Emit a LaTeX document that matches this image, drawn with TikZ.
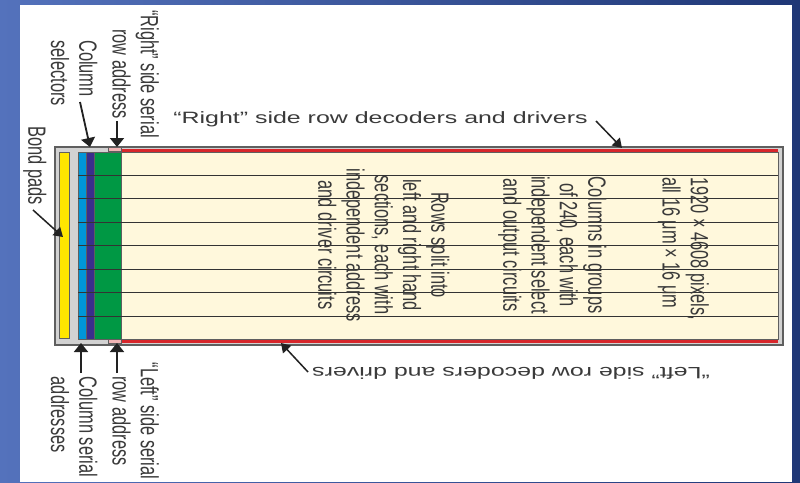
\documentclass[tikz,border=0pt]{standalone}
\usepackage{fontspec}
\setmainfont{Liberation Sans}
\usetikzlibrary{arrows.meta}
\definecolor{bgA}{RGB}{84,114,188}
\definecolor{bgB}{RGB}{31,55,118}
\definecolor{cream}{RGB}{255,248,220}
\definecolor{padyellow}{RGB}{255,230,0}
\definecolor{lblue}{RGB}{0,150,216}
\definecolor{dblue}{RGB}{58,46,140}
\definecolor{sgreen}{RGB}{0,152,68}
\definecolor{sred}{RGB}{215,38,43}
\definecolor{spink}{RGB}{240,180,180}
\definecolor{fgray}{RGB}{210,210,210}
\definecolor{edgegray}{RGB}{95,95,95}
\definecolor{txt}{RGB}{58,58,58}
\definecolor{arrowc}{RGB}{34,34,34}
\newcommand\vlab[2]{\scalebox{1.52}[1]{\rotatebox{-90}{\begin{tabular}{@{}#1@{}}#2\end{tabular}}}}
\newcommand\hlab[1]{\scalebox{1.52}[1]{#1}}
\newcommand\flab[1]{\scalebox{1.52}[1]{\rotatebox{180}{#1}}}
\begin{document}
\begin{tikzpicture}[x=1pt,y=-1pt,
  lab/.style={inner sep=0, text=txt, font=\fontsize{16.4}{18.6}\selectfont},
  arr/.style={draw=arrowc, line width=1.5pt, -{Triangle[length=9pt,width=11pt]}},
  varr/.style={draw=arrowc, line width=1.8pt, -{Triangle[length=9pt,width=14pt]}},
  part/.style={draw=edgegray, line width=0.7pt},
  gridline/.style={draw=black!80, line width=0.8pt}]
\useasboundingbox (0,0) rectangle (800,482);
\shade[left color=bgA, right color=bgB] (0,0) rectangle (800,482);
\fill[white] (20,5) rectangle (792,482);
% frame
\draw[draw=edgegray, fill=fgray, line width=1.2pt] (55,147) rectangle (783,345);
\fill[sred] (121,148.5) rectangle (778,151.5);
\fill[sred] (121,339.5) rectangle (778,342.5);
\draw[part, fill=spink] (108,147.5) rectangle (121,151.5);
\draw[part, fill=spink] (108,339.5) rectangle (121,343.5);
\draw[part, fill=cream] (121,152) rectangle (778,339.5);
\draw[part, fill=padyellow] (59,152) rectangle (69,338);
\draw[part, fill=lblue] (78,152) rectangle (86,339.5);
\draw[part, fill=dblue] (86,152) rectangle (94,339.5);
\draw[part, fill=sgreen] (94,152) rectangle (121,339.5);
\foreach \i in {1,...,7} \draw[gridline] (78,{152+\i*23.43}) -- (778,{152+\i*23.43});
% labels
\node[lab] (rsr) at (132.5,74) {\vlab{c}{“Right” side serial\\row address}};
\node[lab] (csel) at (71,73) {\vlab{l}{Column\\selectors}};
\node[lab] (bond) at (34,166) {\vlab{l}{Bond pads}};
\node[lab] (lsr) at (132.5,421) {\vlab{c}{“Left” side serial\\row address}};
\node[lab] (csa) at (71,427) {\vlab{l}{Column serial\\addresses}};
\node[lab] (pix) at (682.5,248.5) {\vlab{l}{1920 × 4608 pixels,\\all 16 μm × 16 μm}};
\node[lab] (cols) at (551.5,245) {\vlab{c}{Columns in groups\\of 240, each with\\independent select\\and output circuits}};
\node[lab] (rows) at (380.5,245) {\vlab{c}{Rows split into\\left and right hand\\sections, each with\\independent address\\and driver circuits}};
\node[lab] (rdec) at (380.5,119) {\hlab{“Right” side row decoders and drivers}};
\node[lab] (ldec) at (511,373) {\flab{“Left” side row decoders and drivers}};
% arrows
\coordinate (rsrT) at (117,121); \coordinate (rsrH) at (117,147);
\coordinate (cselT) at (80,102); \coordinate (cselH) at (90,147);
\coordinate (bondT) at (33,210); \coordinate (bondH) at (63,237);
\coordinate (rdecT) at (596,121); \coordinate (rdecH) at (622,148);
\coordinate (ldecT) at (308,372); \coordinate (ldecH) at (281,343);
\coordinate (csaT) at (81,373); \coordinate (csaH) at (81,343);
\coordinate (lsrT) at (117,373); \coordinate (lsrH) at (117,343);
\draw[varr] (rsrT) -- (rsrH);
\draw[varr] (cselT) -- (cselH);
\draw[arr] (bondT) -- (bondH);
\draw[arr] (rdecT) -- (rdecH);
\draw[arr] (ldecT) -- (ldecH);
\draw[varr] (csaT) -- (csaH);
\draw[varr] (lsrT) -- (lsrH);
\end{tikzpicture}
\end{document}
